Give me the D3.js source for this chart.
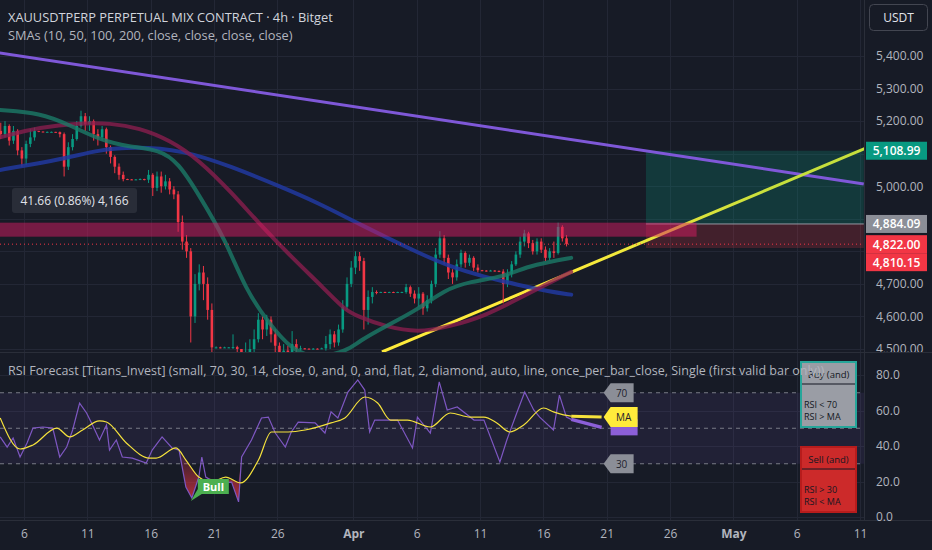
<!DOCTYPE html>
<html>
<head>
<meta charset="utf-8">
<script src="https://cdn.jsdelivr.net/npm/d3@7"></script>
<style>
  body { margin: 0; background: #171b26; }
  svg { display: block; font-family: "Open Sans", sans-serif; }
</style>
</head>
<body>
<svg id="chart" width="932" height="550"></svg>
<script>
// 8h candles from Mar 4, close / high / low (open = previous close)
const firstOpen = 5170;
const candleClose = [
  5160, 5185, 5140, 5170, 5110, 5085, 5130, 5150, 5170, 5168, 5167, 5167, 5167, 5166, 5160,
  5060, 5120, 5145, 5185, 5215, 5190, 5200, 5160, 5150, 5175, 5120, 5090, 5060, 5035, 5022,
  5021, 5020, 5021, 5022, 5020, 5035, 4995, 5030, 5000, 5015, 4990, 4975, 4890, 4830, 4800,
  4600, 4700, 4735, 4700, 4620, 4505, 4505, 4504, 4505, 4505, 4506, 4500, 4430, 4470, 4500,
  4530, 4590, 4560, 4590, 4545, 4510, 4470, 4495, 4480, 4515, 4500, 4502, 4501, 4500, 4501,
  4500, 4502, 4515, 4545, 4520, 4560, 4630, 4700, 4750, 4785, 4770, 4620, 4660, 4675, 4674,
  4675, 4674, 4675, 4674, 4675, 4675, 4690, 4670, 4655, 4670, 4625, 4650, 4700, 4790, 4840,
  4780, 4735, 4720, 4760, 4795, 4765, 4780, 4750, 4742, 4741, 4740, 4741, 4740, 4738, 4700,
  4730, 4760, 4790, 4830, 4855, 4825, 4800, 4830, 4805, 4780, 4800, 4795, 4875, 4840, 4822
];
const candleHigh = [
  5195, 5200, 5190, 5185, 5175, 5120, 5140, 5175, 5180, 5170, 5168, 5168, 5168, 5167, 5168,
  5165, 5135, 5160, 5200, 5232, 5225, 5215, 5205, 5175, 5185, 5180, 5125, 5095, 5070, 5045,
  5023, 5022, 5022, 5024, 5023, 5050, 5040, 5045, 5045, 5035, 5025, 5000, 4985, 4910, 4850,
  4810, 4730, 4760, 4755, 4720, 4640, 4508, 4507, 4507, 4506, 4545, 4510, 4500, 4520, 4530,
  4560, 4610, 4600, 4605, 4600, 4560, 4520, 4515, 4510, 4555, 4530, 4510, 4503, 4502, 4503,
  4502, 4504, 4540, 4560, 4555, 4575, 4650, 4720, 4770, 4800, 4798, 4780, 4680, 4690, 4680,
  4676, 4676, 4676, 4676, 4676, 4676, 4700, 4695, 4680, 4690, 4675, 4665, 4710, 4810, 4862,
  4850, 4790, 4745, 4775, 4805, 4800, 4790, 4785, 4760, 4743, 4742, 4743, 4742, 4741, 4745,
  4745, 4770, 4800, 4845, 4866, 4860, 4835, 4840, 4840, 4815, 4810, 4830, 4888, 4880, 4850
];
const candleLow = [
  5145, 5150, 5125, 5130, 5095, 5060, 5065, 5120, 5140, 5166, 5166, 5166, 5166, 5165, 5150,
  5030, 5050, 5110, 5140, 5180, 5170, 5170, 5140, 5125, 5140, 5100, 5070, 5040, 5020, 5015,
  5019, 5019, 5019, 5020, 5018, 5010, 4970, 4985, 4980, 4990, 4975, 4960, 4860, 4805, 4780,
  4520, 4580, 4680, 4650, 4590, 4480, 4502, 4502, 4503, 4503, 4500, 4470, 4380, 4420, 4460,
  4490, 4520, 4530, 4540, 4520, 4480, 4440, 4450, 4460, 4470, 4480, 4495, 4499, 4499, 4499,
  4499, 4500, 4495, 4500, 4505, 4510, 4550, 4620, 4690, 4730, 4740, 4560, 4575, 4640, 4668,
  4673, 4673, 4673, 4673, 4673, 4673, 4670, 4660, 4640, 4630, 4605, 4615, 4640, 4690, 4780,
  4760, 4715, 4700, 4710, 4750, 4750, 4755, 4740, 4735, 4739, 4738, 4739, 4738, 4736, 4640,
  4690, 4720, 4755, 4780, 4815, 4810, 4790, 4790, 4795, 4770, 4772, 4780, 4790, 4830, 4815
];

// moving averages, read at day offsets from Mar 4
const smaGreenDay = [0.1, 3.3, 5.6, 8, 10.3, 12.7, 14.2, 15.8, 17.9, 19.5, 21.3, 23.1, 25, 27.6, 28.4, 30.5, 33.1, 35.2, 37.2, 39.9, 41.7, 43.5, 45.2];
const smaGreenVal = [5234, 5225, 5188, 5142, 5121, 5112, 5072, 4974, 4836, 4682, 4581, 4498, 4470, 4495, 4523, 4569, 4621, 4682, 4707, 4722, 4753, 4768, 4780];
const smaRedDay = [0.1, 3.3, 6.4, 8.8, 11.1, 13.5, 15.8, 18.4, 20.5, 23.1, 25.8, 27.3, 28.4, 30.5, 33.1, 35.6, 38.3, 40.9, 43.5, 45.2];
const smaRedVal = [5150, 5182, 5194, 5194, 5179, 5142, 5081, 4980, 4888, 4783, 4682, 4621, 4599, 4569, 4550, 4569, 4600, 4652, 4704, 4737];
const smaBlueDay = [0.1, 2.5, 5.4, 8, 10.6, 14.5, 18.4, 22.3, 25.2, 27.8, 30.5, 33.1, 35.6, 38.3, 40.9, 43.5, 45.2];
const smaBlueVal = [5050, 5066, 5087, 5112, 5121, 5112, 5060, 4998, 4949, 4897, 4845, 4796, 4753, 4722, 4698, 4676, 4667];

// drawings
const purpleDay = [0, 68.3];
const purplePrice = [5410, 5007];
const yellowDay = [30.26, 68.4];
const yellowPrice = [4491, 5116];
const zoneTop = 4888;
const zoneBottom = 4845;
const zoneEndDay = 55.1;
const entryPrice = 4884.09;
const targetPrice = 5108.99;
const stopPrice = 4810.15;
const lastPrice = 4822.00;
const positionDays = [51.1, 68.3];

// RSI pane
const rsiDay = [0.12, 0.67, 1.14, 1.69, 2.24, 2.71, 3.49, 4.27, 4.82, 5.37, 5.84, 6.39, 6.94, 7.41, 7.96, 8.51, 8.75, 9.29, 9.76, 10.55,
  11.65, 12.12, 12.9, 13.69, 14.24, 14.78, 15.25, 15.8, 16.04, 16.35, 17.14, 18.39, 18.94, 19.18, 19.96, 20.75, 21.29, 21.84, 22.63, 23.1,
  23.65, 24.98, 25.76, 26.24, 26.78, 27.57, 28.35, 28.9, 29.29, 29.69, 30.94, 31.49, 32.67, 33.06, 34.08, 34.78, 35.41, 36.2, 37.53, 38.31,
  39.57, 40.12, 40.9, 41.53, 42.24, 42.71, 43.8, 44.27, 44.82, 45.2];
const rsiVal = [45.1, 39.4, 44.5, 33.8, 41.7, 50.1, 50.7, 50.1, 33.8, 39.4, 49, 64.2, 58.6, 51.8, 43.4, 51.8, 37.7, 43.4, 33.8, 33.2,
  30.4, 37.7, 45.1, 38.9, 37.7, 16.9, 10.7, 22.5, 33.8, 22.5, 19.2, 19.7, 8.5, 33.8, 43.4, 55.8, 56.3, 47.3, 39.4, 47.9,
  53.5, 53, 47.3, 59.2, 55.8, 70.4, 77.2, 71.5, 47.9, 54.6, 54.6, 54.6, 38.9, 56.3, 47.3, 76.1, 60.3, 62, 54.6, 54.6,
  31, 43.4, 58.6, 70.4, 60.3, 56.3, 49, 68.7, 56.3, 55];
const maDay = [0.12, 1.69, 2.71, 4.59, 5.61, 6.63, 7.96, 8.51, 10.08, 11.88, 12.43, 14, 14.78, 15.8, 16.82, 17.92, 19.1, 20.51, 21.53, 22.86,
  24.2, 26.24, 27.33, 28.9, 29.92, 30.94, 32.27, 34.08, 35.65, 37.22, 38.31, 39.33, 40.35, 41.45, 43.02, 43.8, 44.59, 45.2];
const maVal = [55.8, 38.3, 40.6, 50.1, 45.1, 49, 54.1, 53.5, 41.7, 33.2, 33.2, 38.9, 32.1, 22.5, 19.7, 22.5, 19.2, 32.1, 47.9, 47.9,
  49, 53, 55.8, 67.6, 64.2, 54.6, 54.6, 50.7, 58.6, 56.3, 56.3, 53, 47.9, 51.8, 61.4, 59.2, 57.5, 56.8];
const forecastDay = [45.2, 47.6];
const forecastRsi = [55, 50.5];
const forecastMa = [56.8, 56.3];
const oversoldDays = [14.1, 19.4];
const bullDay = 15.25;

const priceTicks = [4500, 4600, 4700, 4800, 4900, 5000, 5100, 5200, 5300, 5400];
const rsiTicks = [0, 20, 40, 60, 80];
const rsiLevels = [70, 50, 30];
const timeTicks = ['2026-03-06', '2026-03-11', '2026-03-16', '2026-03-21', '2026-03-26', '2026-04-01', '2026-04-06',
  '2026-04-11', '2026-04-16', '2026-04-21', '2026-04-26', '2026-05-01', '2026-05-06', '2026-05-11'];

const chartRight = 864;
const mainBottom = 352;
const rsiTop = 353;
const rsiBottom = 520;

const svg = d3.select('#chart');
svg.append('rect').attr('width', 932).attr('height', 550).attr('fill', '#171b26');

const x = d3.scaleUtc()
  .domain([new Date(Date.UTC(2026, 2, 6)), new Date(Date.UTC(2026, 4, 11))])
  .range([24, 860]);
const y = d3.scaleLinear().domain([4500, 5400]).range([349, 56]);
const ry = d3.scaleLinear().domain([0, 80]).range([517, 375]);
const startMs = Date.UTC(2026, 2, 4);
const xd = (d) => x(new Date(startMs + d * 864e5));
const tickDates = timeTicks.map((s) => new Date(s + 'T00:00:00Z'));

const defs = svg.append('defs');
defs.append('clipPath').attr('id', 'clipMain').append('rect')
  .attr('x', 0).attr('y', 0).attr('width', chartRight).attr('height', mainBottom);
defs.append('clipPath').attr('id', 'clipRsi').append('rect')
  .attr('x', 0).attr('y', rsiTop).attr('width', chartRight).attr('height', rsiBottom - rsiTop);
defs.append('clipPath').attr('id', 'clipAxis').append('rect')
  .attr('x', chartRight).attr('y', 0).attr('width', 70).attr('height', mainBottom);

const yGrad = defs.append('linearGradient').attr('id', 'yellowGrad')
  .attr('gradientUnits', 'userSpaceOnUse').attr('x1', 560).attr('x2', 780).attr('y1', 0).attr('y2', 0);
yGrad.append('stop').attr('offset', 0).attr('stop-color', '#ffeb3b');
yGrad.append('stop').attr('offset', 1).attr('stop-color', '#c6df3c');

const redGrad = defs.append('linearGradient').attr('id', 'redGrad')
  .attr('x1', 0).attr('x2', 0).attr('y1', 0).attr('y2', 1);
redGrad.append('stop').attr('offset', 0).attr('stop-color', '#f23645').attr('stop-opacity', 0.05);
redGrad.append('stop').attr('offset', 1).attr('stop-color', '#f23645').attr('stop-opacity', 0.75);

// grid
const grid = svg.append('g').attr('stroke', '#232735').attr('stroke-width', 1);
grid.selectAll('.vg').data(tickDates).enter().append('line')
  .attr('x1', (d) => Math.round(x(d)) + 0.5).attr('x2', (d) => Math.round(x(d)) + 0.5)
  .attr('y1', 0).attr('y2', rsiBottom);
grid.selectAll('.hg').data(priceTicks).enter().append('line')
  .attr('x1', 0).attr('x2', chartRight)
  .attr('y1', (d) => Math.round(y(d)) + 0.5).attr('y2', (d) => Math.round(y(d)) + 0.5);
grid.selectAll('.rg').data(rsiTicks).enter().append('line')
  .attr('x1', 0).attr('x2', chartRight)
  .attr('y1', (d) => Math.round(ry(d)) + 0.5).attr('y2', (d) => Math.round(ry(d)) + 0.5);

// ---------- main pane ----------
const main = svg.append('g').attr('clip-path', 'url(#clipMain)');

// long position tool
const px0 = xd(positionDays[0]);
const px1 = xd(positionDays[1]);
main.append('rect').attr('x', px0).attr('y', y(targetPrice)).attr('width', px1 - px0)
  .attr('height', y(entryPrice) - y(targetPrice)).attr('fill', 'rgba(8,153,129,0.24)');
main.append('rect').attr('x', px0).attr('y', y(entryPrice)).attr('width', px1 - px0)
  .attr('height', y(stopPrice) - y(entryPrice)).attr('fill', 'rgba(242,54,69,0.2)');
main.append('line').attr('x1', px0).attr('x2', px1).attr('y1', y(entryPrice)).attr('y2', y(entryPrice))
  .attr('stroke', '#9598a1').attr('stroke-width', 1);

// trend lines
const trend = d3.line().x((d) => xd(d[0])).y((d) => y(d[1]));
main.append('path').attr('d', trend(d3.zip(purpleDay, purplePrice)))
  .attr('stroke', '#7f58d8').attr('stroke-width', 3).attr('fill', 'none');
main.append('path').attr('d', trend(d3.zip(yellowDay, yellowPrice)))
  .attr('stroke', 'url(#yellowGrad)').attr('stroke-width', 3).attr('fill', 'none');

// candles
const candles = candleClose.map((c, i) => {
  const o = i === 0 ? firstOpen : candleClose[i - 1];
  return { day: i / 3 + 1 / 6, o, c, h: Math.max(candleHigh[i], o, c), l: Math.min(candleLow[i], o, c) };
});
const bodyW = 2.6;
const cg = main.selectAll('.candle').data(candles).enter().append('g')
  .attr('fill', (d) => (d.c >= d.o ? '#089981' : '#f23645'))
  .attr('stroke', (d) => (d.c >= d.o ? '#089981' : '#f23645'));
cg.append('line')
  .attr('x1', (d) => xd(d.day)).attr('x2', (d) => xd(d.day))
  .attr('y1', (d) => y(d.h)).attr('y2', (d) => y(d.l)).attr('stroke-width', 1);
cg.append('rect')
  .attr('x', (d) => xd(d.day) - bodyW / 2)
  .attr('y', (d) => y(Math.max(d.o, d.c)))
  .attr('width', bodyW)
  .attr('height', (d) => Math.max(1, Math.abs(y(d.o) - y(d.c))))
  .attr('stroke', 'none');

// SMAs
const smaLine = d3.line().x((d) => xd(d[0])).y((d) => y(d[1])).curve(d3.curveBasis);
[
  [smaBlueDay, smaBlueVal, 'rgba(33,56,160,0.85)'],
  [smaRedDay, smaRedVal, 'rgba(138,30,78,0.78)'],
  [smaGreenDay, smaGreenVal, 'rgba(28,122,104,0.8)']
].forEach(([days, vals, col]) => {
  main.append('path').attr('d', smaLine(d3.zip(days, vals)))
    .attr('stroke', col).attr('stroke-width', 4).attr('fill', 'none').attr('stroke-linecap', 'round');
});

// resistance zone
main.append('rect').attr('x', 0).attr('y', y(zoneTop)).attr('width', xd(zoneEndDay))
  .attr('height', y(zoneBottom) - y(zoneTop)).attr('fill', 'rgba(214,28,98,0.5)');

// last price line
main.append('line').attr('x1', 0).attr('x2', chartRight)
  .attr('y1', y(lastPrice)).attr('y2', y(lastPrice))
  .attr('stroke', '#f23645').attr('stroke-width', 1).attr('stroke-dasharray', '1,3');

// tooltip box
main.append('rect').attr('x', 12).attr('y', 188).attr('width', 125).attr('height', 25).attr('rx', 3)
  .attr('fill', '#2a2e39').attr('opacity', 0.95);
main.append('text').attr('x', 74.5).attr('y', 205).attr('text-anchor', 'middle')
  .attr('font-size', 12).attr('fill', '#e1e3ea').text('41.66 (0.86%) 4,166');

// header
svg.append('text').attr('x', 8).attr('y', 22).attr('font-size', 12.8).attr('fill', '#d1d4dc')
  .text('XAUUSDTPERP PERPETUAL MIX CONTRACT · 4h · Bitget');
svg.append('text').attr('x', 8).attr('y', 40).attr('font-size', 12.8).attr('fill', '#b2b5be')
  .text('SMAs (10, 50, 100, 200, close, close, close, close)');

// ---------- RSI pane ----------
const rsi = svg.append('g').attr('clip-path', 'url(#clipRsi)');
rsi.append('rect').attr('x', 0).attr('y', ry(70)).attr('width', chartRight)
  .attr('height', ry(30) - ry(70)).attr('fill', 'rgba(126,87,194,0.1)');
rsi.selectAll('.lvl').data(rsiLevels).enter().append('line')
  .attr('x1', 0).attr('x2', chartRight)
  .attr('y1', (d) => ry(d)).attr('y2', (d) => ry(d))
  .attr('stroke', '#787b86').attr('stroke-dasharray', '4,4');

// oversold fill between RSI and its MA
const maAt = d3.scaleLinear().domain(maDay).range(maVal);
const osPts = rsiDay.map((d, i) => [d, rsiVal[i]]).filter((p) => p[0] >= oversoldDays[0] && p[0] <= oversoldDays[1]);
const osArea = d3.area().x((d) => xd(d[0])).y0((d) => ry(d[1])).y1((d) => ry(Math.max(d[1], maAt(d[0]))));
rsi.append('path').attr('d', osArea(osPts)).attr('fill', 'url(#redGrad)');

const rsiLine = d3.line().x((d) => xd(d[0])).y((d) => ry(d[1]));
rsi.append('path').attr('d', rsiLine(d3.zip(rsiDay, rsiVal)))
  .attr('stroke', '#7e57c2').attr('stroke-width', 1.2).attr('fill', 'none');
rsi.append('path').attr('d', rsiLine.curve(d3.curveMonotoneX)(d3.zip(maDay, maVal)))
  .attr('stroke', '#f5e23c').attr('stroke-width', 1.2).attr('fill', 'none');
rsiLine.curve(d3.curveLinear);

// forecast segments
rsi.append('path').attr('d', rsiLine(d3.zip(forecastDay, forecastRsi)))
  .attr('stroke', '#8c5fd8').attr('stroke-width', 3.5).attr('fill', 'none');
rsi.append('path').attr('d', rsiLine(d3.zip(forecastDay, forecastMa)))
  .attr('stroke', '#f5e23c').attr('stroke-width', 3).attr('fill', 'none');

// level tags
function tag(g, x0, cy, w, h, fill) {
  g.append('path')
    .attr('d', `M${x0},${cy} L${x0 + 7},${cy - h / 2} L${x0 + w},${cy - h / 2} L${x0 + w},${cy + h / 2} L${x0 + 7},${cy + h / 2} Z`)
    .attr('fill', fill);
}
const tx = xd(forecastDay[1]) + 2;
[70, 30].forEach((lv) => {
  tag(svg, tx, ry(lv), 30, 19, '#8b8e97');
  svg.append('text').attr('x', tx + 18).attr('y', ry(lv) + 4).attr('text-anchor', 'middle')
    .attr('font-size', 10).attr('fill', '#1e222d').text(lv);
});
svg.append('rect').attr('x', tx + 7).attr('y', ry(forecastRsi[1]) - 8).attr('width', 27).attr('height', 16)
  .attr('fill', '#8c5fd8');
tag(svg, tx, ry(forecastMa[1]), 34, 20, '#ffeb3b');
svg.append('text').attr('x', tx + 20).attr('y', ry(forecastMa[1]) + 4).attr('text-anchor', 'middle')
  .attr('font-size', 10).attr('fill', '#1e222d').text('MA');

// Bull label
const bx = xd(bullDay);
const by = ry(d3.min(rsiVal.slice(25, 28)));
svg.append('path')
  .attr('d', `M${bx - 1},${by + 3} L${bx + 6},${by - 9} L${bx + 6},${by - 19} L${bx + 37},${by - 19} L${bx + 37},${by - 4} L${bx + 10},${by - 4} Z`)
  .attr('fill', '#4caf50');
svg.append('text').attr('x', bx + 21.5).attr('y', by - 7.5).attr('text-anchor', 'middle')
  .attr('font-size', 11).attr('font-weight', 700).attr('fill', '#ffffff').text('Bull');

// condition boxes
function condBox(y0, fill, border, title, l1, l2) {
  const g = svg.append('g');
  g.append('rect').attr('x', 801).attr('y', y0).attr('width', 55).attr('height', 65)
    .attr('fill', fill).attr('stroke', border).attr('stroke-width', 2);
  g.append('line').attr('x1', 802).attr('x2', 855).attr('y1', y0 + 22).attr('y2', y0 + 22)
    .attr('stroke', '#131722').attr('stroke-width', 1.2);
  g.append('text').attr('x', 828.5).attr('y', y0 + 15.5).attr('text-anchor', 'middle')
    .attr('font-size', 9.5).attr('fill', '#131722').text(title);
  g.append('text').attr('x', 804).attr('y', y0 + 45.5).attr('font-size', 9).attr('fill', '#131722').text(l1);
  g.append('text').attr('x', 804).attr('y', y0 + 58).attr('font-size', 9).attr('fill', '#131722').text(l2);
}
condBox(362, '#9a9da5', '#26a69a', 'Buy (and)', 'RSI < 70', 'RSI > MA');
condBox(447, '#cc2a2a', '#b71c1c', 'Sell (and)', 'RSI > 30', 'RSI < MA');

svg.append('text').attr('x', 8).attr('y', 375).attr('font-size', 12.5).attr('fill', '#b2b5be')
  .text('RSI Forecast [Titans_Invest] (small, 70, 30, 14, close, 0, and, 0, and, flat, 2, diamond, auto, line, once_per_bar_close, Single (first valid bar only))');

// ---------- separators ----------
const sep = svg.append('g').attr('stroke', '#2a2e39');
sep.append('line').attr('x1', 0).attr('x2', 932).attr('y1', mainBottom + 0.5).attr('y2', mainBottom + 0.5);
sep.append('line').attr('x1', 0).attr('x2', 932).attr('y1', rsiBottom + 0.5).attr('y2', rsiBottom + 0.5);
sep.append('line').attr('x1', chartRight + 0.5).attr('x2', chartRight + 0.5).attr('y1', 0).attr('y2', rsiBottom);

// ---------- axes ----------
const tagPrices = [targetPrice, entryPrice, lastPrice, stopPrice];
const shownPriceTicks = priceTicks.filter((p) => tagPrices.every((t) => Math.abs(y(p) - y(t)) > 9));
const priceAxis = svg.append('g').attr('clip-path', 'url(#clipAxis)')
  .append('g').attr('transform', `translate(${chartRight + 9},0)`)
  .call(d3.axisRight(y).tickValues(shownPriceTicks).tickFormat(d3.format(',.2f')).tickSize(0));
priceAxis.select('.domain').remove();
priceAxis.selectAll('text').attr('font-size', 12).attr('fill', '#b2b5be').attr('font-family', '"Open Sans", sans-serif');

const rsiAxis = svg.append('g').attr('transform', `translate(${chartRight + 9},0)`)
  .call(d3.axisRight(ry).tickValues(rsiTicks).tickFormat(d3.format('.1f')).tickSize(0));
rsiAxis.select('.domain').remove();
rsiAxis.selectAll('text').attr('font-size', 12).attr('fill', '#b2b5be').attr('font-family', '"Open Sans", sans-serif');

const timeAxis = svg.append('g').attr('transform', `translate(0,${rsiBottom + 6})`)
  .call(d3.axisBottom(x).tickValues(tickDates).tickSize(0)
    .tickFormat((d) => (d.getUTCDate() === 1 ? d3.utcFormat('%b')(d) : d3.utcFormat('%-d')(d))));
timeAxis.select('.domain').remove();
timeAxis.selectAll('text').attr('font-size', 12).attr('fill', '#b2b5be').attr('font-family', '"Open Sans", sans-serif')
  .attr('font-weight', (d) => (d.getUTCDate() === 1 ? 700 : 400));

// price tags on the scale
const tags = [
  { price: targetPrice, fill: '#089981', off: 0 },
  { price: entryPrice, fill: '#8b8e97', off: 0 },
  { price: lastPrice, fill: '#f23645', off: 0 },
  { price: stopPrice, fill: '#f23645', off: y(lastPrice) + 18 - y(stopPrice) }
];
tags.forEach((t) => {
  const cy = y(t.price) + t.off;
  svg.append('rect').attr('x', chartRight + 2).attr('y', cy - 9).attr('width', 61).attr('height', 18)
    .attr('fill', t.fill);
  svg.append('text').attr('x', chartRight + 32.5).attr('y', cy + 4.5).attr('text-anchor', 'middle')
    .attr('font-size', 12).attr('font-weight', 600).attr('fill', '#ffffff')
    .text(d3.format(',.2f')(t.price));
});

// currency button
svg.append('rect').attr('x', 869.5).attr('y', 4.5).attr('width', 58).attr('height', 26).attr('rx', 4)
  .attr('fill', '#171b26').attr('stroke', '#434651');
svg.append('text').attr('x', 898.5).attr('y', 22).attr('text-anchor', 'middle')
  .attr('font-size', 12).attr('fill', '#e1e3ea').text('USDT');
</script>
</body>
</html>
